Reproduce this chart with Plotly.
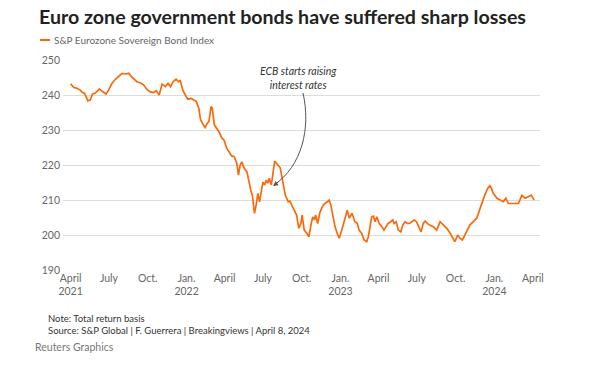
import plotly.graph_objects as go

dates = [
    "2021-04-01", "2021-04-08", "2021-04-16", "2021-04-24", "2021-04-28", "2021-05-04", "2021-05-12",
    "2021-05-18", "2021-05-23", "2021-05-29", "2021-06-08", "2021-06-16", "2021-06-24", "2021-06-30",
    "2021-07-08", "2021-07-16", "2021-07-24", "2021-08-01", "2021-08-09", "2021-08-17", "2021-08-22",
    "2021-08-28", "2021-09-05", "2021-09-13", "2021-09-21", "2021-09-29", "2021-10-07", "2021-10-15",
    "2021-10-21", "2021-10-28", "2021-11-04", "2021-11-12", "2021-11-18", "2021-11-24", "2021-11-30",
    "2021-12-07", "2021-12-13", "2021-12-17", "2021-12-23", "2021-12-29", "2022-01-04", "2022-01-12",
    "2022-01-18", "2022-01-24", "2022-01-30", "2022-02-03", "2022-02-10", "2022-02-14", "2022-02-19",
    "2022-02-23", "2022-02-28", "2022-03-03", "2022-03-08", "2022-03-13", "2022-03-19", "2022-03-25",
    "2022-03-31", "2022-04-06", "2022-04-11", "2022-04-18", "2022-04-24", "2022-04-30", "2022-05-04",
    "2022-05-08", "2022-05-12", "2022-05-18", "2022-05-24", "2022-05-29", "2022-06-03", "2022-06-06",
    "2022-06-11", "2022-06-15", "2022-06-19", "2022-06-23", "2022-06-27", "2022-07-01", "2022-07-05",
    "2022-07-09", "2022-07-13", "2022-07-16", "2022-07-21", "2022-07-25", "2022-07-29", "2022-08-02",
    "2022-08-06", "2022-08-11", "2022-08-15", "2022-08-19", "2022-08-23", "2022-08-30", "2022-09-03",
    "2022-09-09", "2022-09-14", "2022-09-19", "2022-09-24", "2022-09-29", "2022-10-02", "2022-10-07",
    "2022-10-13", "2022-10-18", "2022-10-23", "2022-10-27", "2022-10-31", "2022-11-03", "2022-11-08",
    "2022-11-13", "2022-11-19", "2022-11-25", "2022-12-01", "2022-12-05", "2022-12-09", "2022-12-13",
    "2022-12-19", "2022-12-24", "2022-12-29", "2023-01-04", "2023-01-09", "2023-01-14", "2023-01-17",
    "2023-01-22", "2023-01-28", "2023-01-31", "2023-02-04", "2023-02-10", "2023-02-14", "2023-02-20",
    "2023-02-26", "2023-03-04", "2023-03-08", "2023-03-12", "2023-03-16", "2023-03-20", "2023-03-24",
    "2023-03-28", "2023-04-03", "2023-04-09", "2023-04-14", "2023-04-19", "2023-04-24", "2023-04-30",
    "2023-05-05", "2023-05-08", "2023-05-13", "2023-05-18", "2023-05-24", "2023-05-29", "2023-06-03",
    "2023-06-09", "2023-06-14", "2023-06-19", "2023-06-25", "2023-06-30", "2023-07-05", "2023-07-11",
    "2023-07-16", "2023-07-21", "2023-07-26", "2023-08-01", "2023-08-09", "2023-08-17", "2023-08-25",
    "2023-09-02", "2023-09-10", "2023-09-18", "2023-09-25", "2023-09-29", "2023-10-06", "2023-10-11",
    "2023-10-17", "2023-10-23", "2023-10-30", "2023-11-04", "2023-11-12", "2023-11-20", "2023-11-28",
    "2023-12-03", "2023-12-09", "2023-12-16", "2023-12-21", "2023-12-25", "2023-12-29", "2024-01-07",
    "2024-01-14", "2024-01-22", "2024-01-28", "2024-02-03", "2024-02-11", "2024-02-19", "2024-02-27",
    "2024-03-06", "2024-03-14", "2024-03-22", "2024-03-28", "2024-04-04",
]

index_values = [
    243.2, 242.2, 241.9, 241.4, 240.8, 240.5, 238.3,
    238.6, 240.3, 240.5, 241.7, 241.0, 240.3, 241.4,
    243.3, 244.5, 245.4, 246.2, 246.0, 246.2, 245.4,
    244.8, 243.8, 243.5, 242.9, 241.6, 240.9, 240.7,
    241.2, 240.0, 243.1, 242.4, 243.3, 242.4, 243.8,
    244.5, 243.8, 244.1, 241.4, 240.0, 238.8, 239.0,
    238.6, 238.1, 236.2, 233.0, 231.4, 230.7, 231.9,
    232.4, 236.7, 236.2, 231.4, 230.5, 229.5, 227.8,
    227.1, 224.8, 223.8, 222.6, 222.4, 220.5, 217.1,
    220.0, 220.9, 219.0, 218.1, 214.8, 212.4, 211.4,
    206.2, 208.6, 211.9, 209.5, 212.9, 215.1, 214.3,
    215.7, 214.8, 216.2, 214.3, 217.6, 221.1, 220.5,
    220.0, 219.2, 216.7, 214.3, 211.4, 209.5, 209.7,
    208.1, 206.7, 205.7, 201.9, 203.3, 205.7, 201.4,
    200.5, 199.5, 202.9, 205.2, 204.3, 205.7, 203.3,
    206.4, 208.1, 209.0, 209.5, 210.0, 208.6, 205.7,
    202.4, 200.5, 199.1, 201.4, 203.8, 205.7, 207.1,
    204.8, 206.2, 205.2, 203.8, 203.3, 201.4, 200.5,
    198.6, 198.1, 199.5, 202.4, 205.2, 205.4, 203.8,
    205.2, 203.3, 202.4, 201.4, 202.4, 203.3, 203.8,
    204.3, 203.3, 203.8, 201.4, 200.9, 202.9, 203.8,
    203.3, 203.3, 203.8, 204.3, 203.8, 202.4, 200.9,
    203.3, 204.0, 203.3, 202.8, 202.4, 201.4, 203.8,
    202.9, 201.9, 200.5, 199.1, 198.1, 200.0, 199.1,
    198.6, 200.0, 201.9, 202.9, 203.8, 204.8, 207.6,
    209.5, 211.4, 213.3, 214.1, 213.3, 211.9, 210.5,
    210.0, 209.5, 210.5, 209.0, 209.0, 209.0, 209.0,
    211.4, 210.5, 211.0, 211.4, 210.0,
]

tick_dates = ["2021-04-01", "2021-07-01", "2021-10-01", "2022-01-01", "2022-04-01", "2022-07-01",
              "2022-10-01", "2023-01-01", "2023-04-01", "2023-07-01", "2023-10-01", "2024-01-01",
              "2024-04-01"]
tick_labels = ["April<br>2021", "July", "Oct.", "Jan.<br>2022", "April", "July", "Oct.",
               "Jan.<br>2023", "April", "July", "Oct.", "Jan.<br>2024", "April"]
y_ticks = [190, 200, 210, 220, 230, 240, 250]

ORANGE = "#fa6a0a"
FONT = "Lato"

fig = go.Figure()
fig.add_trace(go.Scatter(x=dates, y=index_values, mode="lines",
                         line=dict(color=ORANGE, width=1.7), hoverinfo="skip",
                         showlegend=False))

L, R, T, B = 63, 60, 60, 95
fig.update_layout(
    width=600, height=365,
    margin=dict(l=L, r=R, t=T, b=B),
    paper_bgcolor="white", plot_bgcolor="white",
    font=dict(family=FONT, color="#666", size=10.5),
    xaxis=dict(range=["2021-03-14", "2024-04-18"], tickvals=tick_dates, ticktext=tick_labels,
               showgrid=False, zeroline=False, showline=False, ticks="",
               tickfont=dict(size=10.5, color="#666"), fixedrange=True),
    yaxis=dict(range=[190, 250], tickvals=y_ticks, showgrid=True, gridcolor="#dcdcdc",
               gridwidth=1, zeroline=False, showline=False, ticks="",
               tickfont=dict(size=10.5, color="#666"), ticklabelstandoff=2, fixedrange=True),
)

pw, ph = 600 - L - R, 365 - T - B
def px(xp):
    return (xp - L) / pw
def py(yp):
    return (365 - B - yp) / ph

# Title and legend
fig.add_annotation(text="<b>Euro zone government bonds have suffered sharp losses</b>",
                   xref="paper", yref="paper", x=px(37), y=py(16), xanchor="left", yanchor="middle",
                   showarrow=False, font=dict(family=FONT, size=19.6, color="#222"))
fig.add_shape(type="line", xref="paper", yref="paper", x0=px(40), x1=px(50), y0=py(40), y1=py(40),
              line=dict(color=ORANGE, width=2))
fig.add_annotation(text="S&P Eurozone Sovereign Bond Index", xref="paper", yref="paper",
                   x=px(52), y=py(40), xanchor="left", yanchor="middle", showarrow=False,
                   font=dict(family=FONT, size=10, color="#666"))

# ECB annotation
fig.add_annotation(text="<i>ECB starts raising<br>interest rates</i>", xref="paper", yref="paper",
                   x=px(298), y=py(78), xanchor="center", yanchor="middle", showarrow=False,
                   font=dict(family=FONT, size=10.5, color="#333"))
fig.add_shape(type="path", xref="paper", yref="paper",
              path=f"M {px(303)} {py(93)} C {px(311)} {py(128)}, {px(302)} {py(166)}, {px(274)} {py(185)}",
              line=dict(color="#555", width=1))
fig.add_annotation(x=px(273), y=py(186), xref="paper", yref="paper", ax=7, ay=-5, text="",
                   showarrow=True, arrowhead=2, arrowsize=1, arrowwidth=1, arrowcolor="#555")

# Footer
fig.add_annotation(text="Note: Total return basis<br>Source: S&P Global | F. Guerrera | Breakingviews | April 8, 2024",
                   xref="paper", yref="paper", x=px(46), y=py(311), xanchor="left", yanchor="top",
                   align="left", showarrow=False, font=dict(family=FONT, size=9.5, color="#333"))
fig.add_annotation(text="Reuters Graphics", xref="paper", yref="paper", x=px(33), y=py(347),
                   xanchor="left", yanchor="middle", showarrow=False,
                   font=dict(family=FONT, size=10.5, color="#777"))

fig.write_html("out.html", config={"displayModeBar": False},
               post_script="document.body.style.margin='0';")
